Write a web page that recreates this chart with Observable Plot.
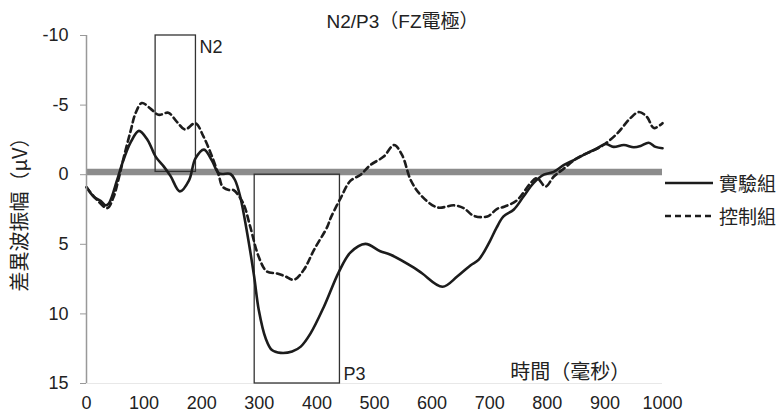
<!DOCTYPE html>
<html>
<head>
<meta charset="utf-8">
<script src="https://cdn.jsdelivr.net/npm/d3@7"></script>
<script src="https://cdn.jsdelivr.net/npm/@observablehq/plot@0.6"></script>
<style>
  html, body { margin: 0; padding: 0; background: #fff; }
  #wrap { position: relative; width: 783px; height: 412px; }
  #legend { position: absolute; left: 664px; top: 166px; font-family: "Noto Sans CJK TC", "Liberation Sans", sans-serif; font-size: 19px; color: #222; }
  .row { display: flex; align-items: center; height: 33px; }
  .row svg { margin-right: 5px; }
</style>
</head>
<body>
<div id="wrap"><div id="legend"></div></div>
<script>
// ---- data ----
const seriesNames = ["實驗組", "控制組"];

const expTime  = [0, 13, 25, 33, 39, 53, 62, 77, 91, 106, 120, 134, 146, 162, 178, 189, 204, 218, 230, 250, 258, 267, 279, 291, 299, 311, 322, 337, 357, 372, 389, 412, 438, 458, 484, 510, 528, 569, 583, 618, 644, 667, 681, 700, 712, 724, 742, 759, 776, 794, 811, 829, 846, 869, 887, 901, 915, 933, 950, 962, 976, 988, 1000];
const expValue = [0.9, 1.6, 1.9, 2.2, 2.05, 0.4, -0.8, -2.35, -3.15, -2.5, -1.3, -0.6, 0.1, 1.2, 0.4, -1.15, -1.8, -1.0, -0.1, -0.05, 0.4, 1.6, 4.2, 7.3, 9.7, 11.75, 12.6, 12.8, 12.7, 12.35, 11.4, 9.5, 7.0, 5.6, 4.97, 5.5, 5.75, 6.7, 7.1, 8.05, 7.3, 6.5, 6.1, 4.8, 3.8, 3.0, 2.5, 1.55, 0.6, 0.0, -0.2, -0.7, -1.05, -1.55, -1.9, -2.2, -2.0, -2.13, -1.97, -2.06, -2.3, -2.0, -1.9];

const ctrlTime  = [0, 18, 36, 47, 56, 65, 77, 85, 96, 111, 125, 142, 157, 171, 189, 203, 218, 230, 236, 247, 255, 272, 284, 299, 313, 331, 345, 360, 377, 395, 418, 424, 441, 458, 476, 493, 516, 534, 548, 563, 580, 609, 638, 655, 672, 696, 713, 725, 747, 771, 782, 797, 811, 829, 852, 875, 898, 921, 944, 959, 973, 985, 1000];
const ctrlValue = [0.9, 1.8, 2.4, 1.6, 0.25, -1.3, -3.2, -4.4, -5.15, -4.75, -4.3, -4.45, -3.8, -3.25, -3.7, -2.75, -1.3, 0.1, 0.85, 1.1, 1.1, 2.05, 3.7, 5.9, 6.95, 7.1, 7.3, 7.55, 6.85, 5.4, 3.75, 3.1, 1.7, 0.45, 0.0, -0.7, -1.3, -2.13, -1.4, 0.4, 1.45, 2.35, 2.2, 2.4, 2.95, 3.0, 2.45, 2.3, 1.85, 0.6, 0.25, 0.85, 0.15, -0.45, -1.2, -1.65, -2.15, -2.95, -4.05, -4.5, -4.15, -3.35, -3.7];

// component windows (N2, P3)
const boxNames  = ["N2", "P3"];
const boxStart  = [120, 292];
const boxEnd    = [190, 440];
const boxTop    = [-10, 0];
const boxBottom = [-0.2, 15];
const boxLabelX = [196, 446];
const boxLabelY = [-9.13, 14.37];

const xTicks = [0, 100, 200, 300, 400, 500, 600, 700, 800, 900, 1000];
const yTicks = [-10, -5, 0, 5, 10, 15];
const baselineValue = -0.2;

const titleText = "N2/P3（FZ電極）";
const yLabel = "差異波振幅（μV）";
const xLabel = "時間（毫秒）";
const xLabelPos = [840, 14.2];

// ---- build tables ----
const expData = expTime.map((t, i) => ({t, v: expValue[i]}));
const ctrlData = ctrlTime.map((t, i) => ({t, v: ctrlValue[i]}));
const boxes = boxNames.map((n, i) => ({n, x1: boxStart[i], x2: boxEnd[i], y1: boxTop[i], y2: boxBottom[i], lx: boxLabelX[i], ly: boxLabelY[i]}));

const latin = "'Liberation Sans', Arial, 'Noto Sans CJK TC', sans-serif";
const cjk = "'Noto Sans CJK TC', 'Liberation Sans', sans-serif";

const chart = Plot.plot({
  width: 783,
  height: 412,
  marginLeft: 86,
  marginRight: 121,
  marginTop: 35,
  marginBottom: 29,
  style: {fontFamily: latin, fontSize: "18px", color: "#222", background: "white"},
  x: {domain: [0, 1000]},
  y: {domain: [-10, 15], reverse: true},
  marks: [
    Plot.ruleY([15], {stroke: "#e8e8e8", strokeWidth: 1}),
    Plot.ruleY([baselineValue], {stroke: "#8c8c8c", strokeWidth: 6.5}),
    Plot.rect(boxes, {x1: "x1", x2: "x2", y1: "y1", y2: "y2", fill: "none", stroke: "#333", strokeWidth: 1.3}),
    Plot.line(expData, {x: "t", y: "v", stroke: "#1c1c1c", strokeWidth: 2.6, curve: "catmull-rom"}),
    Plot.line(ctrlData, {x: "t", y: "v", stroke: "#1c1c1c", strokeWidth: 2.6, strokeDasharray: "6,4", curve: "catmull-rom"}),
    Plot.ruleX([0], {y1: -10, y2: 15, stroke: "#999", strokeWidth: 1.5}),
    Plot.axisY({ticks: yTicks, tickSize: 6, tickPadding: 12, stroke: "#999", fill: "#222", tickFormat: d => `${d}`, label: null, fontSize: 18}),
    Plot.axisX({ticks: xTicks, tickSize: 0, tickPadding: 13, fill: "#222", tickFormat: d => `${d}`, label: null, fontSize: 18}),
    Plot.text(boxes, {x: "lx", y: "ly", text: "n", textAnchor: "start", lineAnchor: "middle", fontSize: 18, fill: "#222"}),
    Plot.text([titleText], {frameAnchor: "top", textAnchor: "middle", dx: 28, dy: -14, lineAnchor: "middle", fontSize: 19, fill: "#222", fontFamily: latin}),
    Plot.text([yLabel], {frameAnchor: "left", textAnchor: "middle", rotate: -90, dx: -66, dy: 0, lineAnchor: "middle", fontSize: 20, fill: "#222", fontFamily: cjk}),
    Plot.text([xLabel], {x: () => xLabelPos[0], y: () => xLabelPos[1], textAnchor: "middle", lineAnchor: "middle", fontSize: 20, fill: "#222", fontFamily: cjk})
  ]
});
document.getElementById("wrap").prepend(chart);

// legend
const legend = document.getElementById("legend");
seriesNames.forEach((name, i) => {
  const row = document.createElement("div");
  row.className = "row";
  row.innerHTML = `<svg width="50" height="6"><line x1="1" x2="49" y1="3" y2="3" stroke="#1c1c1c" stroke-width="2.6" ${i === 1 ? 'stroke-dasharray="6,4"' : ''}/></svg><span>${name}</span>`;
  legend.appendChild(row);
});
</script>
</body>
</html>
